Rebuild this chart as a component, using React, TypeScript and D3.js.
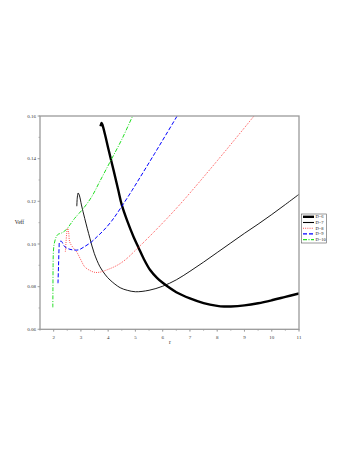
import React from "react";
import * as d3 from "d3";

const rD6 = [3.72, 3.76, 3.8, 3.9, 4.0, 4.2, 4.37, 4.5, 4.7, 4.93, 5.11, 5.3, 5.54, 5.8, 6.0, 6.5, 7.0, 7.5, 8.0, 8.25, 8.5, 9.0, 9.5, 10.0, 10.5, 11.0];
const vD6 = [0.1552, 0.1568, 0.1555, 0.1505, 0.145, 0.1345, 0.1253, 0.1183, 0.1108, 0.1034, 0.0984, 0.0932, 0.0878, 0.0840, 0.0818, 0.0774, 0.0745, 0.0723, 0.0710, 0.0707, 0.0707, 0.0712, 0.0722, 0.0736, 0.0752, 0.0768];

const rD7 = [2.85, 2.87, 2.9, 2.95, 3.02, 3.14, 3.33, 3.49, 3.7, 3.9, 4.07, 4.44, 4.7, 5.0, 5.5, 6.0, 6.5, 7.0, 7.5, 8.0, 8.5, 9.0, 9.5, 10.0, 10.5, 11.0];
const vD7 = [0.1177, 0.122, 0.1239, 0.1225, 0.1183, 0.112, 0.1027, 0.0956, 0.0893, 0.0855, 0.0831, 0.0795, 0.0783, 0.0776, 0.0783, 0.0802, 0.0832, 0.0872, 0.0915, 0.096, 0.1005, 0.105, 0.1093, 0.1138, 0.1185, 0.1233];

const rD8 = [2.43, 2.45, 2.48, 2.51, 2.55, 2.59, 2.7, 2.84, 3.0, 3.14, 3.3, 3.51, 3.7, 3.94, 4.3, 4.62, 5.11, 5.6, 6.16, 6.65, 7.02, 8.0, 9.0, 9.4];
const vD8 = [0.0964, 0.1, 0.105, 0.1073, 0.1055, 0.101, 0.0985, 0.0964, 0.0925, 0.0893, 0.0878, 0.0867, 0.0868, 0.0878, 0.0898, 0.0925, 0.0984, 0.1046, 0.112, 0.1188, 0.1242, 0.139, 0.1545, 0.1608];

const rD9 = [2.16, 2.18, 2.2, 2.22, 2.28, 2.41, 2.6, 2.9, 3.1, 3.39, 3.6, 3.82, 4.13, 4.44, 4.87, 5.28, 5.7, 6.1, 6.53, 6.7];
const vD9 = [0.0816, 0.09, 0.098, 0.101, 0.1013, 0.0987, 0.0975, 0.0972, 0.0985, 0.101, 0.1035, 0.1062, 0.1108, 0.1165, 0.125, 0.1335, 0.1423, 0.1508, 0.16, 0.1637];

const rD10 = [1.97, 1.975, 1.98, 1.99, 2.02, 2.1, 2.16, 2.3, 2.47, 2.6, 2.77, 3.08, 3.39, 3.7, 4.07, 4.5, 4.9, 5.0];
const vD10 = [0.0703, 0.08, 0.09, 0.096, 0.1, 0.1035, 0.1045, 0.1052, 0.1068, 0.109, 0.112, 0.1165, 0.122, 0.1295, 0.1385, 0.149, 0.16, 0.1625];

const xTicks = [2, 3, 4, 5, 6, 7, 8, 9, 10, 11];
const xTickLabels = ["2", "3", "4", "5", "6", "7", "8", "9", "10", "11"];
const yTicks = [0.06, 0.08, 0.1, 0.12, 0.14, 0.16];
const yTickLabels = ["0.06", "0.08", "0.10", "0.12", "0.14", "0.16"];
const legendLabels = ["D=6", "D=7", "D=8", "D=9", "D=10"];

const series = [
  { r: rD6, v: vD6, color: "#000000", width: 2.4, dash: "" },
  { r: rD7, v: vD7, color: "#000000", width: 0.9, dash: "" },
  { r: rD8, v: vD8, color: "#ff3b3b", width: 1, dash: "0.9,1.3" },
  { r: rD9, v: vD9, color: "#0000ff", width: 1, dash: "4,2" },
  { r: rD10, v: vD10, color: "#22dd22", width: 1, dash: "4,1.5,1,1.5" },
];

export default function App() {
  const left = 40, right = 299, top = 116, bottom = 329.3;
  const x = d3.scaleLinear().domain([1.5, 11]).range([left, right]);
  const y = d3.scaleLinear().domain([0.06, 0.16]).range([bottom, top]);
  const line = d3
    .line<[number, number]>()
    .x((d) => x(d[0]))
    .y((d) => y(d[1]))
    .curve(d3.curveCatmullRom.alpha(0.5));
  const xMinor = d3.range(1.5, 11.01, 0.5);
  const yMinor = d3.range(0.06, 0.1601, 0.01);
  const axisColor = "#9a9a9a";
  const font = "Liberation Serif, Times New Roman, serif";

  return (
    <svg width={354} height={458} style={{ position: "absolute", left: 0, top: 0, background: "#fff" }}>
      <defs>
        <clipPath id="plotclip">
          <rect x={left} y={top} width={right - left} height={bottom - top} />
        </clipPath>
      </defs>
      <g clipPath="url(#plotclip)">
        {series.map((s, i) => (
          <path
            key={i}
            d={line(s.r.map((r, j) => [r, s.v[j]] as [number, number])) || ""}
            fill="none"
            stroke={s.color}
            strokeWidth={s.width}
            strokeDasharray={s.dash || undefined}
            strokeLinejoin="round"
          />
        ))}
      </g>
      <rect x={left} y={top} width={right - left} height={bottom - top} fill="none" stroke={axisColor} strokeWidth={1.3} />
      {xMinor.map((t, i) => (
        <line key={"xm" + i} x1={x(t)} x2={x(t)} y1={bottom} y2={bottom + 1.5} stroke={axisColor} strokeWidth={0.7} />
      ))}
      {xTicks.map((t, i) => (
        <g key={"xt" + i}>
          <line x1={x(t)} x2={x(t)} y1={bottom} y2={bottom + 2.5} stroke={axisColor} strokeWidth={0.8} />
          <text x={x(t)} y={339} fontSize={5} fontFamily={font} textAnchor="middle" fill="#333">
            {xTickLabels[i]}
          </text>
        </g>
      ))}
      {yMinor.map((t, i) => (
        <line key={"ym" + i} x1={left - 1.5} x2={left} y1={y(t)} y2={y(t)} stroke={axisColor} strokeWidth={0.7} />
      ))}
      {yTicks.map((t, i) => (
        <g key={"yt" + i}>
          <line x1={left - 2.5} x2={left} y1={y(t)} y2={y(t)} stroke={axisColor} strokeWidth={0.8} />
          <text x={36} y={y(t)} dy="0.35em" fontSize={5} fontFamily={font} textAnchor="end" fill="#333">
            {yTickLabels[i]}
          </text>
        </g>
      ))}
      <text x={19.5} y={224} fontSize={5.5} fontFamily={font} textAnchor="middle" fill="#222">Veff</text>
      <text x={170} y={344} fontSize={5.5} fontFamily={font} textAnchor="middle" fill="#222">r</text>
      <rect x={301.5} y={214} width={25} height={29} fill="#fff" stroke="#555" strokeWidth={0.6} />
      {series.map((s, i) => {
        const ly = 216.8 + i * 5.7;
        return (
          <g key={"lg" + i}>
            <line x1={303} x2={314} y1={ly} y2={ly} stroke={s.color} strokeWidth={Math.max(s.width, 1.1)} strokeDasharray={s.dash || undefined} />
            <text x={315.5} y={ly} dy="0.35em" fontSize={4.5} fontFamily={font} fill="#222">
              {legendLabels[i]}
            </text>
          </g>
        );
      })}
    </svg>
  );
}
